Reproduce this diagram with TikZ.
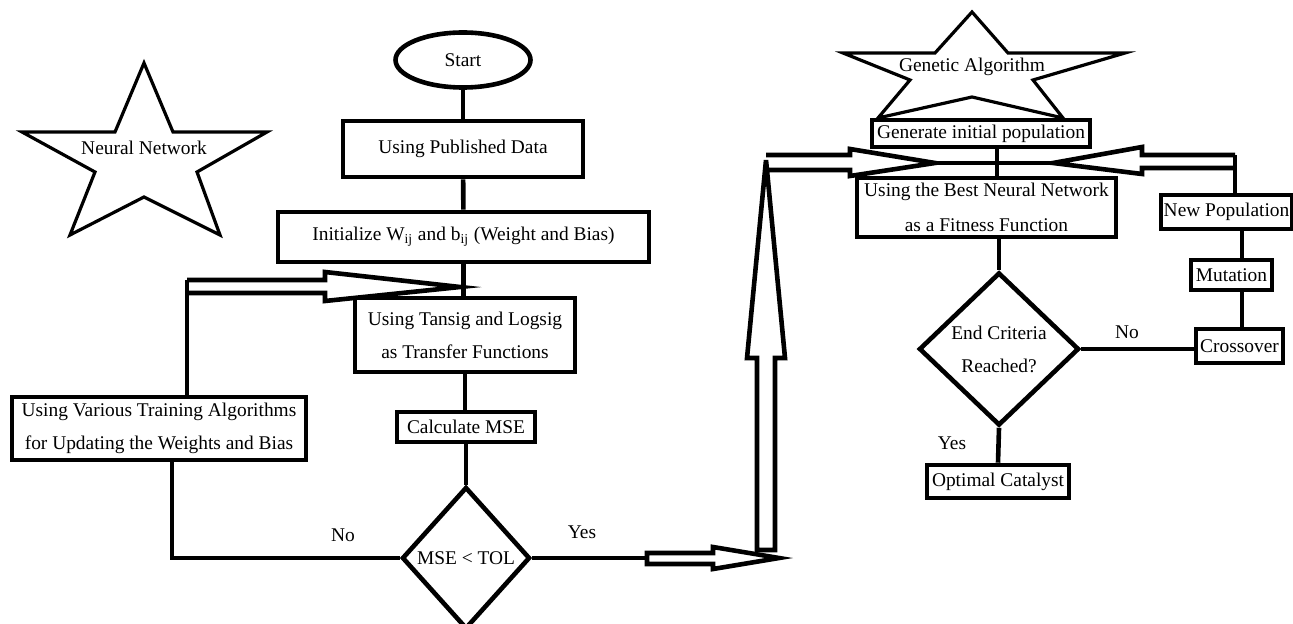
\documentclass[tikz,border=0pt]{standalone}
\usepackage{fontspec}
\setmainfont{Liberation Serif}
\usetikzlibrary{shapes, arrows, positioning}

\begin{document}
\begin{tikzpicture}[x=0.5pt,y=0.5pt,yscale=-1,
  box/.style={draw, line width=2.3pt, inner sep=0pt, align=center, font=\fontsize{9.7}{16.5}\selectfont},
  decision/.style={draw, diamond, line width=2.3pt, inner sep=0pt, align=center, font=\fontsize{9.7}{16.5}\selectfont},
  lbl/.style={inner sep=0pt, font=\fontsize{9.7}{12}\selectfont},
  link/.style={line width=2.3pt},
  hollow/.style={line width=2.3pt, line join=miter},
  starline/.style={line width=1.6pt, line join=miter}]
\useasboundingbox (0,0) rectangle (1293,624);

%Shape: Star [Neural Network]
\draw [starline] (144,63) -- (173,132) -- (267,132) -- (197,172) -- (220,235) -- (144,197) -- (70,235) -- (95,172) -- (22,132) -- (115,132) -- cycle ;
\node [lbl] (nnstar) at (144,148) {Neural Network};

%Shape: Star [Genetic Algorithm]
\draw [starline] (972,12) -- (1008,53) -- (1125,53) -- (1033,80) -- (1063,118) -- (972,97) -- (878,118) -- (910,80) -- (843,53) -- (935,53) -- cycle ;
\node [lbl] (gastar) at (972,67) {Genetic Algorithm};

% neural network side
\node [draw, ellipse, line width=2.3pt, inner sep=0pt, minimum width=67.5pt, minimum height=27.5pt, font=\fontsize{9.7}{12}\selectfont] (start) at (463,60) {Start};
\node [box, minimum width=120pt, minimum height=28pt] (pubdata) at (463,149) {Using Published Data};
\node [box, minimum width=185.5pt, minimum height=25pt] (init) at (463.5,237) {Initialize W\textsubscript{ij} and b\textsubscript{ij} (Weight and Bias)};
\node [box, minimum width=110pt, minimum height=37pt] (tansig) at (465,335) {Using Tansig and Logsig\\as Transfer Functions};
\node [box, minimum width=147pt, minimum height=31.5pt] (train) at (159,428.5) {Using Various Training Algorithms\\for Updating the Weights and Bias};
\node [box, minimum width=69pt, minimum height=15pt] (mse) at (466,427) {Calculate MSE};
\node [decision, minimum width=64pt, minimum height=71pt] (msetol) at (466,558) {MSE < TOL};

% genetic algorithm side
\node [box, minimum width=109pt, minimum height=13.5pt] (geninit) at (981,133.5) {Generate initial population};
\node [box, minimum width=129.5pt, minimum height=29.5pt, font=\fontsize{9.7}{17.5}\selectfont] (bestnn) at (986.5,207.5) {Using the Best Neural Network\\as a Fitness Function};
\node [decision, minimum width=80pt, minimum height=76.5pt] (endcrit) at (999,349) {End Criteria\\Reached?};
\node [box, minimum width=71pt, minimum height=16.5pt] (optcat) at (998,481.5) {Optimal Catalyst};
\node [box, minimum width=65.5pt, minimum height=17pt] (newpop) at (1226.5,212) {New Population};
\node [box, minimum width=40.5pt, minimum height=15pt] (mutation) at (1231.5,275) {Mutation};
\node [box, minimum width=43.5pt, minimum height=17pt] (crossover) at (1239.5,346) {Crossover};

\coordinate (trainout) at ([xshift=6.5pt]train.south);
\coordinate (trainin) at ([xshift=14pt]train.north);
\coordinate (gadown) at ([xshift=8pt]geninit.south);
\coordinate (npout) at ([xshift=4.25pt]newpop.north);

%Straight Lines
\draw [link] (start) -- (pubdata);
\draw [link] (pubdata) -- (init);
\draw [link] (init.south) -- (init.south |- tansig.north);
\draw [link] (tansig.south) -- (tansig.south |- mse.north);
\draw [link] (mse) -- (msetol);
\draw [link] (msetol.west) -| (trainout);
\draw [link] (msetol.east) -- (647,558);
\draw [link] (trainin) -- (187,280);
\draw [link] (gadown) -- (gadown |- bestnn.north);
\draw [link] (bestnn.south -| endcrit.north) -- (endcrit.north);
\draw [link] (endcrit.east) -- (endcrit.east -| crossover.west);
\draw [link] (endcrit.south) -- (optcat.north);
\draw [link] (newpop.south -| 1242,0) -- (mutation.north -| 1242,0);
\draw [link] (mutation.south -| 1242,0) -- (crossover.north -| 1242,0);
\draw [link] (npout) -- (1235,155);
\draw [link] (935,163) -- (1053,163);

%Block Arrows
\draw [hollow] (187,280) -- (325,280) -- (325,272) -- (460,287) -- (325,301) -- (325,293) -- (187,293) ;
\draw [hollow] (647,553) -- (713,553) -- (713,547) -- (779,558) -- (713,569) -- (713,564) -- (647,564) -- cycle ;
\draw [hollow] (757,550) -- (757,358) -- (747,358) -- (766,160) -- (785,358) -- (775,358) -- (775,550) -- cycle ;
\draw [hollow] (766,155) -- (850,155) -- (850,149) -- (935,163) -- (850,176) -- (850,170) -- (769,170) ;
\draw [hollow] (1235,155) -- (1142,155) -- (1142,147) -- (1053,163) -- (1142,174) -- (1142,168) -- (1235,168) ;

% Text Node
\node [lbl] (nolbl) at (343,535) {No};
\node [lbl] (yeslbl) at (582,532) {Yes};
\node [lbl] (gano) at (1127,332) {No};
\node [lbl] (gayes) at (952,443) {Yes};

\end{tikzpicture}
\end{document}
